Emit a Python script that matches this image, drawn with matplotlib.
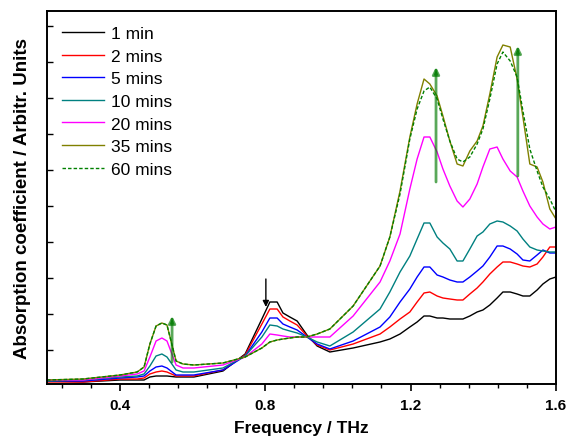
import numpy as np
import matplotlib
matplotlib.use('Agg')
import matplotlib.pyplot as plt
from matplotlib.ticker import MultipleLocator

plt.rcParams['font.family'] = ['Liberation Sans', 'DejaVu Sans']

# frequency grid (THz)
freq = [0.200, 0.299, 0.401, 0.448, 0.467, 0.483, 0.500, 0.516, 0.530, 0.555,
        0.574, 0.604, 0.684, 0.745, 0.791, 0.813, 0.833, 0.849, 0.868, 0.888,
        0.915, 0.943, 0.978, 1.042, 1.116, 1.143, 1.171, 1.198, 1.218, 1.237,
        1.253, 1.273, 1.289, 1.308, 1.328, 1.344, 1.363, 1.383, 1.399, 1.418,
        1.438, 1.454, 1.474, 1.493, 1.509, 1.528, 1.548, 1.564, 1.583, 1.600]

# absorption (arbitrary units) for each exposure time
a_1min = [3, 2, 4, 4, 4, 7, 8, 8, 8, 7,
          7, 7, 13, 30, 65, 82, 82, 71, 67, 63,
          49, 38, 32, 36, 42, 45, 50, 57, 62, 68,
          68, 66, 66, 65, 65, 65, 68, 72, 74, 79,
          86, 92, 92, 90, 88, 88, 94, 100, 105, 107]
a_2min = [2, 2, 5, 5, 6, 10, 12, 13, 12, 8,
          8, 8, 14, 29, 60, 75, 75, 67, 63, 59,
          48, 39, 34, 40, 50, 57, 65, 72, 82, 91,
          92, 88, 86, 85, 84, 84, 90, 96, 102, 110,
          117, 122, 122, 120, 118, 117, 120, 127, 137, 137]
a_5min = [3, 3, 6, 7, 8, 13, 17, 18, 16, 9,
          9, 9, 14, 28, 52, 66, 66, 60, 57, 54,
          47, 40, 35, 43, 57, 67, 82, 95, 107, 117,
          117, 109, 107, 104, 102, 102, 107, 113, 118, 127,
          138, 138, 135, 130, 124, 123, 129, 134, 131, 131]
a_10min = [3, 4, 7, 8, 10, 18, 28, 30, 27, 14,
           12, 12, 16, 28, 47, 59, 58, 55, 53, 51,
           47, 42, 38, 52, 75, 92, 112, 128, 145, 161,
           161, 147, 141, 135, 123, 123, 135, 148, 152, 160,
           163, 162, 158, 153, 145, 137, 134, 133, 132, 132]
a_20min = [4, 4, 8, 10, 13, 27, 43, 46, 43, 19,
           16, 16, 19, 27, 40, 50, 49, 48, 47, 47,
           47, 47, 47, 68, 102, 123, 150, 195, 225, 247,
           247, 232, 215, 198, 183, 177, 185, 200, 217, 235,
           237, 225, 213, 207, 193, 178, 167, 160, 155, 157]
a_35min = [4, 5, 9, 12, 17, 40, 58, 61, 59, 23,
           20, 19, 21, 27, 36, 42, 44, 45, 46, 47,
           47, 50, 55, 78, 118, 147, 193, 247, 280, 305,
           300, 288, 268, 243, 220, 218, 233, 243, 258, 290,
           327, 339, 337, 305, 267, 220, 217, 202, 175, 165]
a_60min = [4, 5, 9, 12, 17, 40, 58, 61, 59, 23,
           20, 19, 21, 27, 36, 42, 44, 45, 46, 47,
           47, 50, 55, 78, 118, 147, 190, 245, 275, 293,
           297, 285, 265, 243, 225, 222, 227, 240, 255, 285,
           320, 332, 323, 307, 273, 235, 213, 197, 185, 172]

labels = ['1 min', '2 mins', '5 mins', '10 mins', '20 mins', '35 mins', '60 mins']
colors = ['black', 'red', 'blue', '#008080', 'magenta', '#808000', '#008000']
series = [a_1min, a_2min, a_5min, a_10min, a_20min, a_35min, a_60min]

# arrows: (x, y_start, y_end)
green_arrows = [(0.544, 22, 68), (1.270, 202, 317), (1.495, 208, 338)]
black_arrow = (0.802, 105, 77)

fig = plt.figure(figsize=(5.67, 4.39), dpi=100)
ax = fig.add_axes([47/567, 54/439, 509/567, 373/439])

for vals, lab, col in zip(series, labels, colors):
    if lab == '60 mins':
        ax.plot(freq, vals, color=col, lw=1.0, ls=(0, (2.5, 1.5)), label=lab)
    else:
        ax.plot(freq, vals, color=col, lw=1.0, label=lab)

for x, y0, y1 in green_arrows:
    ax.annotate('', xy=(x, y1), xytext=(x, y0),
                arrowprops=dict(arrowstyle='-|>', color='#007a00', lw=2.0,
                                alpha=0.65, mutation_scale=10,
                                shrinkA=0, shrinkB=0))
ax.annotate('', xy=(black_arrow[0], black_arrow[2]), xytext=(black_arrow[0], black_arrow[1]),
            arrowprops=dict(arrowstyle='-|>', color='black', lw=1.0,
                            mutation_scale=9, shrinkA=0, shrinkB=0))

ax.set_xlim(0.2, 1.6)
ax.set_ylim(0, 373)
ax.xaxis.set_major_locator(MultipleLocator(0.4))
ax.xaxis.set_minor_locator(MultipleLocator(0.08))
ax.set_xticks([0.4, 0.8, 1.2, 1.6])
ax.set_yticks(np.arange(34, 373, 36))
ax.set_yticklabels([])
ax.tick_params(axis='x', which='major', direction='out', length=5, width=1.2,
               labelsize=11, pad=5)
ax.tick_params(axis='x', which='minor', direction='out', length=3, width=1.0)
ax.tick_params(axis='y', which='major', direction='in', length=4, width=1.0)
for lab in ax.get_xticklabels():
    lab.set_fontweight('bold')
for s in ax.spines.values():
    s.set_linewidth(1.4)

ax.set_xlabel('Frequency / THz', fontsize=12.5, fontweight='bold', labelpad=6)
ax.set_ylabel('Absorption coefficient / Arbitr. Units', fontsize=13.5,
              fontweight='bold', labelpad=8)

ax.legend(loc='upper left', bbox_to_anchor=(15/509, 0.96), frameon=False,
          fontsize=12.5, handlelength=2.4, handletextpad=0.4, labelspacing=0.43,
          borderpad=0, borderaxespad=0)

fig.savefig('out.png', dpi=100)
